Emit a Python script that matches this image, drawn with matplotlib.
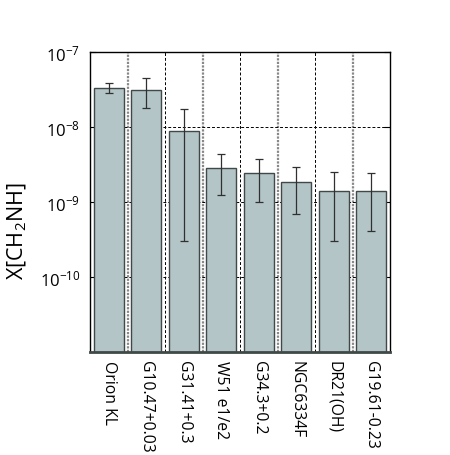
import matplotlib
matplotlib.use("Agg")
import matplotlib.pyplot as plt
import numpy as np

sources = ["Orion KL", "G10.47+0.03", "G31.41+0.3", "W51 e1/e2", "G34.3+0.2",
           "NGC6334F", "DR21(OH)", "G19.61-0.23"]
abundance = [3.35e-8, 3.15e-8, 8.9e-9, 2.8e-9, 2.4e-9, 1.82e-9, 1.42e-9, 1.42e-9]
err_high = [3.9e-8, 4.5e-8, 1.74e-8, 4.4e-9, 3.8e-9, 2.95e-9, 2.54e-9, 2.4e-9]
err_low = [2.8e-8, 1.8e-8, 3.0e-10, 1.23e-9, 1.01e-9, 7.0e-10, 3.0e-10, 4.1e-10]

plt.rcParams['font.family'] = ['Open Sans', 'DejaVu Sans']
plt.rcParams['mathtext.default'] = 'regular'

fig = plt.figure(figsize=(4.5, 4.56), dpi=100)
ax = fig.add_axes([90/450, 1-353/456, 300/450, 300/456])

x = np.arange(len(sources))
vals = np.array(abundance)
yerr = np.array([vals - np.array(err_low), np.array(err_high) - vals])

ax.set_yscale('log')
ax.set_ylim(1e-11, 1e-7)
ax.set_xlim(-0.5, len(sources) - 0.5)

# horizontal grid at decades
ax.yaxis.grid(True, which='major', linestyle=(0, (3, 2)), color='black', linewidth=0.7, zorder=0)
ax.set_axisbelow(True)
# vertical separators between categories
for i in range(1, len(sources)):
    if i % 2 == 1:
        ax.axvline(i - 0.5, color='#888888', linestyle=(0, (1.0, 0.6)), linewidth=1.6, zorder=0)
    else:
        ax.axvline(i - 0.5, color='black', linestyle=(0, (3, 2)), linewidth=0.7, zorder=0)

ax.bar(x, vals, width=0.8, color='#b3c5c7', edgecolor='#404848', linewidth=1.0, zorder=2)
ax.errorbar(x, vals, yerr=yerr, fmt='none', ecolor='#303030', elinewidth=0.9,
            capsize=3, capthick=0.9, zorder=3)

ax.set_xticks(x)
ax.set_xticklabels(sources, rotation=270, fontsize=11.3, va='top', ha='center')
ax.tick_params(axis='x', length=0, pad=6)
ax.set_yticks([1e-10, 1e-9, 1e-8, 1e-7])
ax.tick_params(axis='y', which='major', direction='in', length=4, right=True, labelsize=12, pad=7)
ax.minorticks_off()

for s in ['top', 'left', 'right']:
    ax.spines[s].set_linewidth(1.0)
    ax.spines[s].set_color('black')
ax.spines['bottom'].set_linewidth(2.0)
ax.spines['bottom'].set_color('#404848')

fig.text(17/450, 1-231/456, 'X[CH$_2$NH]', fontsize=15.5, rotation=90,
         ha='center', va='center')

fig.savefig('out.png', dpi=100)
